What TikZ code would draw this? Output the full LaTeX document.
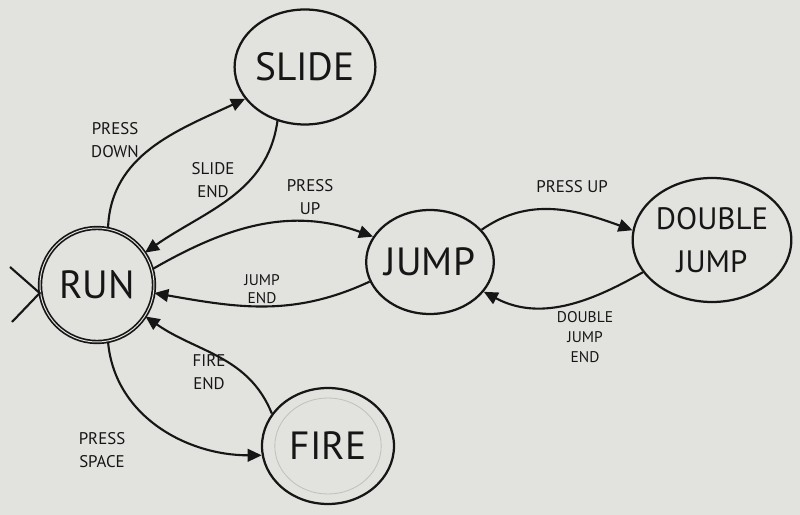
\documentclass[tikz,border=0pt]{standalone}
\usepackage{fontspec}
\setmainfont{PT Sans}
\usepackage{tikz}
\usetikzlibrary{shapes,arrows.meta}
\definecolor{paper}{RGB}{226,226,223}
\definecolor{ink}{RGB}{22,22,22}
\tikzstyle{state} = [draw=ink, ellipse, line width=1.6pt, inner sep=0pt, text=ink,
font=\fontsize{28}{32}\selectfont]
\tikzstyle{trans} = [draw=ink, line width=1.5pt, ->, >={Triangle[length=10pt,width=9pt]}]
\tikzstyle{cond} = [text=ink, align=center, font=\fontsize{12}{16}\selectfont]

\begin{document}
\begin{tikzpicture}[node distance=2cm]

% Paper
\fill [paper] (-2.425,-5.75) rectangle (17.575,7.125);

% Place states
\node [state, circle, minimum size=2.85cm, line width=1.2pt, double=paper, double distance=0.7pt](run){RUN};
\node [state, right of=run, xshift=3.2cm, yshift=5.45cm, minimum width=3.3cm, minimum height=2.875cm](slide){SLIDE};
\node [state, right of=run, xshift=6.325cm, yshift=0.575cm, minimum width=2.875cm, minimum height=2.6cm](jump){JUMP};
\node [state, right of=jump, xshift=5.05cm, yshift=0.55cm, minimum width=3.55cm, minimum height=3.1cm, align=center, font=\fontsize{22}{31}\selectfont](double){DOUBLE\\JUMP};
\node [state, below of=run, xshift=5.775cm, yshift=-2.025cm, minimum width=3.3cm, minimum height=2.9cm](fire){FIRE};
\draw [gray!35!paper, line width=0.6pt] (fire.center) ellipse (1.33cm and 1.2cm);

% Start marker
\coordinate (init1) at (-2.175,0.45);
\coordinate (init2) at (-2.125,-0.925);
\draw [ink, line width=1.5pt] (init1) -- (run.188) -- (init2);

% Place transitions
\draw [trans] (run.79) to[out=88, in=205] (slide.208);
\draw [trans] (slide.243) to[out=262, in=35] (run.34);
\draw [trans] (run.16) to[out=30, in=160] (jump.156);
\draw [trans] (jump.198) to[out=205, in=-10] (run.-8);
\draw [trans] (jump.32) to[out=35, in=160] (double.173);
\draw [trans] (double.205) to[out=210, in=-28] (jump.-29);
\draw [trans] (run.-79) to[out=-85, in=180] (fire.188);
\draw [trans] (fire.150) to[out=112, in=-35] (run.-33);

% Place labels
\node [cond] (pressdown) at (0.45,3.625) {PRESS\\DOWN};
\node [cond] (slideend) at (2.9,2.625) {SLIDE\\END};
\node [cond] (pressup) at (5.325,2.2) {PRESS\\UP};
\node [cond, font=\fontsize{11}{13}\selectfont] (jumpend) at (4.125,-0.1) {JUMP\\END};
\node [cond] (pressupd) at (11.875,2.45) {PRESS UP};
\node [cond, font=\fontsize{11}{14}\selectfont] (djend) at (12.2,-1.3) {DOUBLE\\JUMP\\END};
\node [cond] (fireend) at (2.8,-2.175) {FIRE\\END};
\node [cond] (pressspace) at (0.125,-4.125) {PRESS\\SPACE};

\end{tikzpicture}
\end{document}
